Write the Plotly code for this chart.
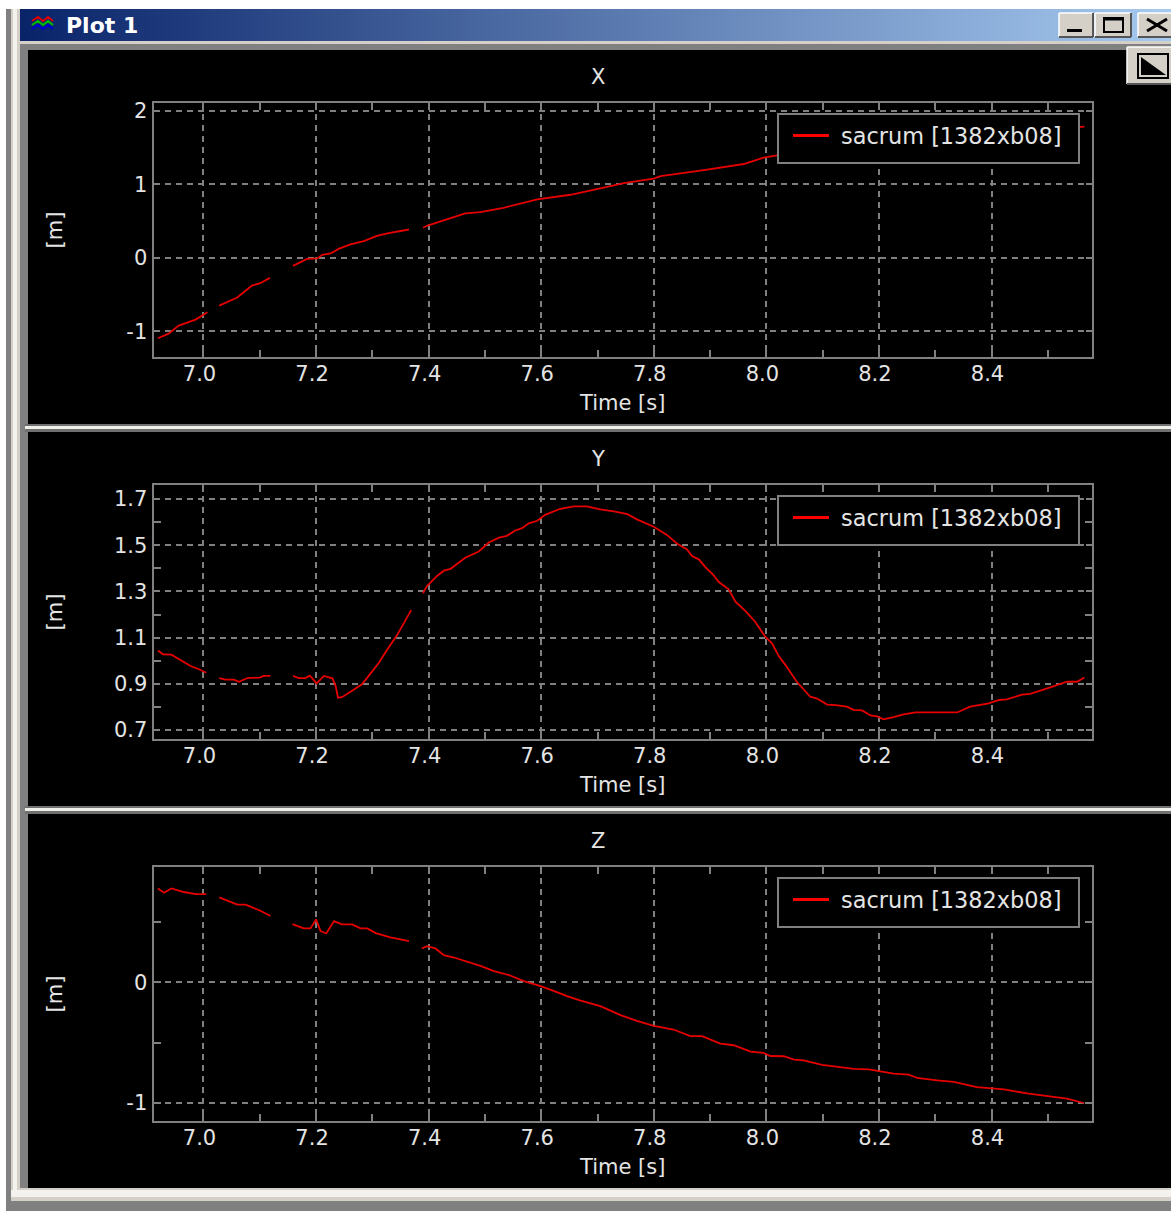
import plotly.graph_objects as go

W, H = 1171, 1211

# ---- data ----
SERIES_NAME = "sacrum [1382xb08]"
TICK_TIMES = [7.0, 7.2, 7.4, 7.6, 7.8, 8.0, 8.2, 8.4]
X_TICKS = [-1, 0, 1, 2]
X_LABELS = ["-1", "0", "1", "2"]
Y_TICKS = [0.7, 0.9, 1.1, 1.3, 1.5, 1.7]
Y_LABELS = ["0.7", "0.9", "1.1", "1.3", "1.5", "1.7"]
Z_TICKS = [-1, 0]
Z_LABELS = ["-1", "0"]

t_x = [6.919, 6.938, 6.956, 6.986, 7.007, None, 7.028, 7.060, 7.086, 7.101, 7.118, None,
       7.159, 7.184, 7.202, 7.211, 7.226, 7.240, 7.261, 7.285, 7.308, 7.329, 7.365, None,
       7.390, 7.397, 7.424, 7.465, 7.492, 7.533, 7.593, 7.652, 7.711, 7.747, 7.800, 7.812,
       7.889, 7.960, 7.995, 8.022, 8.200, 8.400, 8.560, 8.565]
v_x = [-1.095, -1.032, -0.922, -0.841, -0.741, None, -0.650, -0.540, -0.377, -0.345, -0.272, None,
       -0.108, -0.013, -0.008, 0.042, 0.060, 0.123, 0.183, 0.228, 0.301, 0.337, 0.387, None,
       0.410, 0.437, 0.505, 0.606, 0.624, 0.683, 0.797, 0.860, 0.956, 1.020, 1.079, 1.115,
       1.197, 1.279, 1.365, 1.401, 1.550, 1.680, 1.787, 1.787]

t_y = [6.919, 6.928, 6.943, 6.959, 6.977, 6.992, 7.005, None,
       7.028, 7.039, 7.054, 7.063, 7.078, 7.100, 7.107, 7.119, None,
       7.159, 7.169, 7.181, 7.189, 7.201, 7.214, 7.229, 7.235, 7.239, 7.246, 7.264, 7.282,
       7.297, 7.311, 7.326, 7.344, 7.359, 7.369, None,
       7.390, 7.397, 7.415, 7.427, 7.439, 7.465, 7.489, 7.507, 7.525, 7.539, 7.554, 7.566,
       7.578, 7.593, 7.607, 7.634, 7.658, 7.681, 7.705, 7.729, 7.753, 7.770, 7.800, 7.824,
       7.841, 7.859, 7.868, 7.880, 7.892, 7.906, 7.915, 7.933, 7.945, 7.963, 7.980, 7.998,
       8.010, 8.022, 8.034, 8.054, 8.078, 8.090, 8.108, 8.123, 8.143, 8.155, 8.170, 8.185,
       8.197, 8.208, 8.226, 8.244, 8.265, 8.339, 8.362, 8.395, 8.413, 8.427, 8.454, 8.469,
       8.499, 8.534, 8.552, 8.565]
v_y = [1.044, 1.028, 1.026, 1.003, 0.977, 0.963, 0.948, None,
       0.925, 0.918, 0.918, 0.909, 0.925, 0.927, 0.934, 0.934, None,
       0.935, 0.925, 0.925, 0.935, 0.902, 0.934, 0.924, 0.888, 0.840, 0.842, 0.870, 0.899,
       0.945, 0.989, 1.046, 1.111, 1.176, 1.219, None,
       1.292, 1.323, 1.367, 1.390, 1.398, 1.446, 1.473, 1.512, 1.533, 1.541, 1.564, 1.574,
       1.595, 1.606, 1.632, 1.658, 1.668, 1.668, 1.655, 1.647, 1.635, 1.612, 1.580, 1.544,
       1.508, 1.482, 1.453, 1.439, 1.404, 1.371, 1.342, 1.309, 1.256, 1.215, 1.169, 1.104,
       1.075, 1.020, 0.981, 0.909, 0.844, 0.836, 0.810, 0.808, 0.801, 0.787, 0.785, 0.763,
       0.759, 0.746, 0.756, 0.768, 0.776, 0.776, 0.801, 0.815, 0.830, 0.833, 0.853, 0.856,
       0.880, 0.909, 0.909, 0.927]

t_z = [6.919, 6.930, 6.943, 6.965, 6.986, 7.005, None,
       7.028, 7.045, 7.060, 7.075, 7.101, 7.119, None,
       7.158, 7.178, 7.190, 7.200, 7.208, 7.218, 7.232, 7.246, 7.264, 7.279, 7.291, 7.306,
       7.332, 7.365, None,
       7.388, 7.397, 7.412, 7.427, 7.445, 7.468, 7.492, 7.516, 7.545, 7.569, 7.599, 7.622,
       7.646, 7.670, 7.705, 7.741, 7.770, 7.800, 7.835, 7.865, 7.886, 7.918, 7.942, 7.972,
       7.995, 8.007, 8.031, 8.049, 8.066, 8.099, 8.126, 8.155, 8.182, 8.200, 8.226, 8.253,
       8.268, 8.303, 8.333, 8.374, 8.422, 8.466, 8.504, 8.534, 8.564]
v_z = [0.776, 0.740, 0.776, 0.746, 0.729, 0.729, None,
       0.701, 0.666, 0.641, 0.641, 0.591, 0.547, None,
       0.480, 0.445, 0.445, 0.519, 0.422, 0.403, 0.505, 0.478, 0.478, 0.445, 0.445, 0.406,
       0.370, 0.340, None,
       0.279, 0.298, 0.279, 0.224, 0.204, 0.171, 0.135, 0.091, 0.055, 0.008, -0.033, -0.072,
       -0.116, -0.152, -0.199, -0.273, -0.320, -0.362, -0.392, -0.447, -0.447, -0.508, -0.522, -0.575,
       -0.586, -0.611, -0.613, -0.641, -0.647, -0.685, -0.702, -0.718, -0.721, -0.735, -0.757, -0.765,
       -0.793, -0.812, -0.826, -0.868, -0.887, -0.923, -0.945, -0.964, -1.0]

# ---- style / layout ----
GRAY = "#808080"
TEXT = "#e4e4e4"
RED = "#e60000"
FONT = "DejaVu Sans"
FS = 21
PLOT_L, PLOT_R = 153.5, 1092
TIME_RANGE = [6.9112, 8.5785]
panels = [
    dict(title="X", top=103, bot=357, yrange=[-1.35, 2.11], ticks=X_TICKS, labels=X_LABELS, minor=None,
         t=t_x, v=v_x, standoff=58),
    dict(title="Y", top=485, bot=739, yrange=[0.661, 1.761], ticks=Y_TICKS, labels=Y_LABELS, minor=0.2,
         t=t_y, v=v_y, standoff=46),
    dict(title="Z", top=867, bot=1121, yrange=[-1.149, 0.953], ticks=Z_TICKS, labels=Z_LABELS, minor=0.5,
         t=t_z, v=v_z, standoff=58),
]


def px(x):
    return x / W


def py(y):
    return 1 - y / H


def rect(x0, y0, x1, y1, fill, layer="below", line=None, lw=0):
    return dict(type="rect", xref="paper", yref="paper", x0=px(x0), x1=px(x1), y0=py(y1), y1=py(y0),
                fillcolor=fill, layer=layer, line=dict(color=line or fill, width=lw))


def seg(x0, y0, x1, y1, color, width, layer="above"):
    return dict(type="line", xref="paper", yref="paper", x0=px(x0), x1=px(x1), y0=py(y0), y1=py(y1),
                layer=layer, line=dict(color=color, width=width))


def button(x0, y0, x1, y1):
    return [rect(x0, y0, x1, y1, "#d4d0c8", "above"),
            seg(x0, y0, x1, y0, "#ffffff", 1.5), seg(x0, y0, x0, y1, "#ffffff", 1.5),
            seg(x0, y1, x1, y1, "#555555", 2), seg(x1, y0, x1, y1, "#555555", 2)]


shapes = []
# window frame
shapes += [
    rect(6, 9, W, 1204, "#808080"),
    rect(11, 9, W, 1201, "#d4d0c8"),
    rect(13, 9, 17, 1197, "#f4f2ee"),
    rect(20, 41, W, 1188, "#808080"),
    rect(28, 50, W, 1188, "#000000"),
    rect(11, 1190, W, 1197, "#f4f2ee"),
    rect(6, 1202, W, 1211, "#808080"),
]
# title bar gradient
c0, c1 = (10, 36, 106), (166, 202, 240)
STEP = 8
for i in range(20, 1171, STEP):
    f = (i - 20) / (1171 - 20)
    col = "rgb(%d,%d,%d)" % tuple(round(a + (b - a) * f) for a, b in zip(c0, c1))
    shapes.append(rect(i, 9, i + STEP, 41, col))
shapes.append(rect(20, 41, W, 44, "#d4d0c8"))
# separators between the panels
for y in (424, 806):
    shapes.append(rect(25, y, W, y + 8, "#707070"))
    shapes.append(rect(25, y + 2, W, y + 5, "#f0eee8"))
# title bar buttons
shapes += button(1059, 13, 1093, 37) + button(1095, 13, 1131, 37) + button(1138, 13, 1172, 37)
shapes += [
    rect(1067, 29, 1082, 32, "#000000", "above"),
    rect(1104, 18, 1123, 32, "#d4d0c8", "above", "#000000", 2),
    seg(1104, 19, 1123, 19, "#000000", 3),
    seg(1147, 19, 1167, 31, "#000000", 3), seg(1147, 31, 1167, 19, "#000000", 3),
]
# toolbar button
shapes += button(1127, 47, 1172, 84)
shapes += [
    rect(1138, 54, 1168, 78, "#d4d0c8", "above", "#000000", 2),
    dict(type="path", xref="paper", yref="paper", layer="above", fillcolor="#000000",
         line=dict(width=0),
         path="M %f %f L %f %f L %f %f Z" % (px(1141), py(57), px(1166), py(75), px(1141), py(75))),
]
# window icon
for dy, col in ((0, "#e00000"), (4, "#00c000"), (8, "#0000d0")):
    shapes.append(dict(type="path", xref="paper", yref="paper", layer="above", line=dict(color=col, width=2),
                       path="M %f %f L %f %f L %f %f L %f %f L %f %f" % (
                           px(32), py(21 + dy), px(38), py(17 + dy), px(43), py(21 + dy),
                           px(48), py(17 + dy), px(53), py(21 + dy))))

fig = go.Figure()
annotations = [dict(text="<b>Plot 1</b>", xref="paper", yref="paper", x=px(64), y=py(25), xanchor="left",
                    yanchor="middle", showarrow=False, font=dict(family=FONT, size=22, color="#ffffff"))]

layout = {}
for i, p in enumerate(panels, start=1):
    sfx = "" if i == 1 else str(i)
    xref, yref = "x" + sfx, "y" + sfx
    # real series
    fig.add_trace(go.Scatter(x=p["t"], y=p["v"], mode="lines", xaxis=xref, yaxis=yref, showlegend=False,
                             connectgaps=False, line=dict(color=RED, width=1.8), name=SERIES_NAME))
    # legend entry (thicker key than the data line)
    fig.add_trace(go.Scatter(x=[None], y=[None], mode="lines", xaxis=xref, yaxis=yref,
                             name="\u00a0" + SERIES_NAME,
                             legend="legend" + sfx, line=dict(color="#ff0000", width=3)))
    axis_common = dict(showline=True, linecolor=GRAY, linewidth=2, mirror="allticks", ticks="inside",
                       ticklen=6, tickcolor=GRAY, tickwidth=1.5, showgrid=True, gridcolor=GRAY,
                       griddash="6px,5px", gridwidth=1.5, zeroline=False,
                       tickfont=dict(family=FONT, size=FS, color=TEXT))
    layout["xaxis" + sfx] = dict(axis_common, domain=[px(PLOT_L), px(PLOT_R)], range=TIME_RANGE, anchor=yref,
                                 tickvals=TICK_TIMES, tickformat=".1f", ticklabelshift=-4, ticklabelstandoff=-3,
                                 minor=dict(dtick=0.1, tick0=7.0, ticks="inside", ticklen=7, tickcolor=GRAY,
                                            tickwidth=1.5, showgrid=False),
                                 title=dict(text="Time [s]", standoff=10,
                                            font=dict(family=FONT, size=FS, color=TEXT)))
    yax = dict(axis_common, domain=[py(p["bot"]), py(p["top"])], range=p["yrange"], anchor=xref,
               tickvals=p["ticks"], ticktext=p["labels"],
               title=dict(text="[m]", standoff=p["standoff"], font=dict(family=FONT, size=FS, color=TEXT)))
    if p["minor"]:
        yax["minor"] = dict(dtick=p["minor"], tick0=p["ticks"][0] + (p["minor"] / 2 if i == 2 else p["minor"]),
                            ticks="inside", ticklen=7, tickcolor=GRAY, tickwidth=1.5, showgrid=False)
    layout["yaxis" + sfx] = yax
    # legend frame, black fill hides what runs beneath it
    shapes.append(rect(778, p["top"] + 11, 1079, p["top"] + 60, "#000000", "above", GRAY, 2))
    layout["legend" + sfx] = dict(x=px(788), y=py(p["top"] + 33), xanchor="left", yanchor="middle",
                                  bgcolor="rgba(0,0,0,0)", borderwidth=0, itemwidth=36,
                                  font=dict(family=FONT, size=22.4, color=TEXT))
    annotations.append(dict(text=p["title"], xref="paper", yref="paper", x=px(598), y=py(p["top"] - 26),
                            xanchor="center", yanchor="middle", showarrow=False,
                            font=dict(family=FONT, size=FS, color=TEXT)))

fig.update_layout(width=W, height=H, margin=dict(l=0, r=0, t=0, b=0, autoexpand=False), autosize=False,
                  paper_bgcolor="#ffffff", plot_bgcolor="#000000",
                  shapes=shapes, annotations=annotations, **layout)

fig.write_html("out.html", config=dict(displayModeBar=False),
               post_script="document.body.style.margin='0';document.body.style.overflow='hidden';")
